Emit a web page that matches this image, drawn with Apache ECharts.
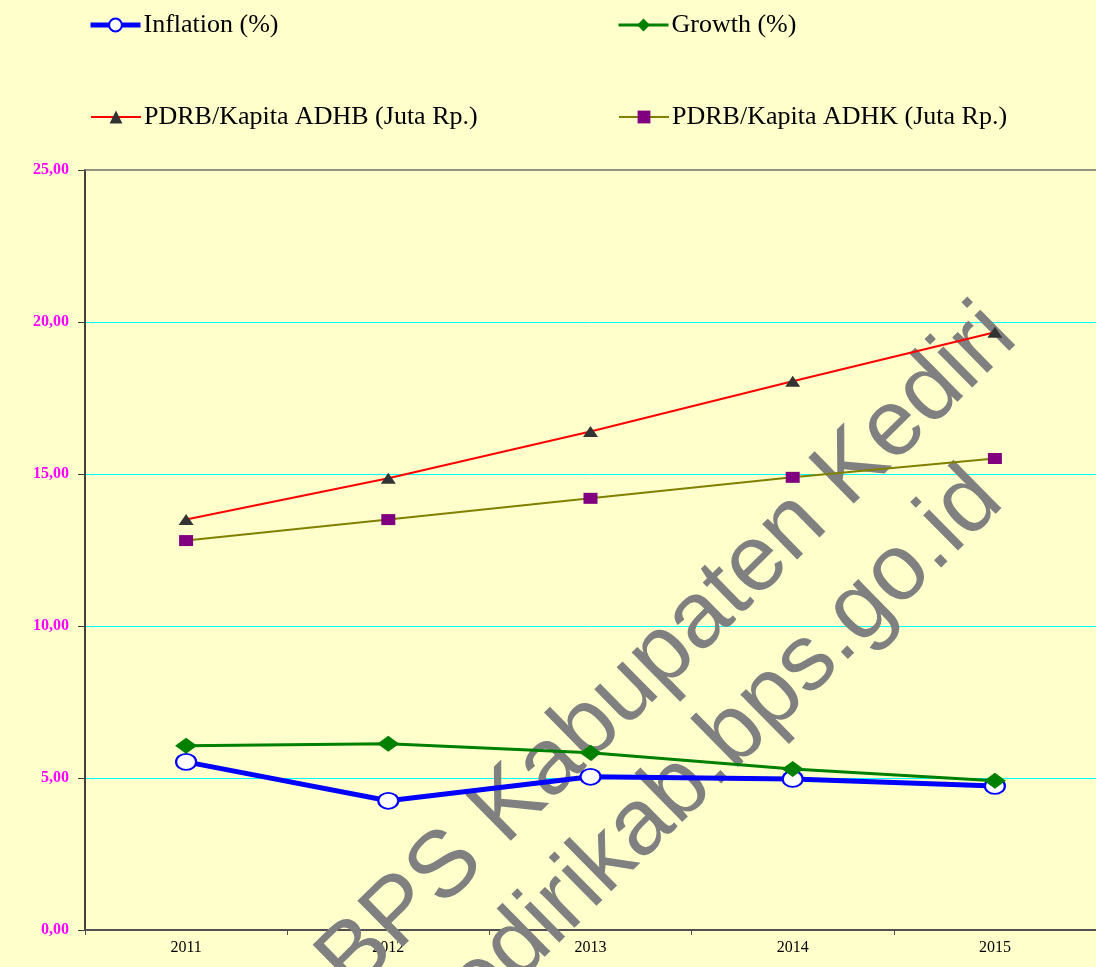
<!DOCTYPE html>
<html>
<head>
<meta charset="utf-8">
<script src="https://cdn.jsdelivr.net/npm/echarts@6/dist/echarts.min.js"></script>
<style>
  html, body { margin: 0; padding: 0; background: #FFFFCC; }
  #chart { width: 1096px; height: 967px; }
</style>
</head>
<body>
<div id="chart"></div>
<script>
// values
const years = ['2011', '2012', '2013', '2014', '2015'];
const inflation = [5.53, 4.25, 5.04, 4.97, 4.74];
const growth = [6.06, 6.13, 5.83, 5.30, 4.91];
const adhb = [13.50, 14.86, 16.40, 18.05, 19.66];
const adhk = [12.81, 13.50, 14.20, 14.89, 15.51];
const seriesNames = ['Inflation (%)', 'Growth (%)', 'PDRB/Kapita ADHB (Juta Rp.)', 'PDRB/Kapita ADHK (Juta Rp.)'];
const watermark = ['BPS Kabupaten Kediri', 'kedirikab.bps.go.id'];

const serif = '"Liberation Serif", "DejaVu Serif", serif';

const legendAt = (name, left, top, lineWidth) => ({
    data: [name],
    left: left,
    top: top,
    itemWidth: 50,
    itemHeight: 16,
    itemGap: 0,
    padding: 0,
    lineStyle: { width: lineWidth },
    textStyle: { fontFamily: serif, fontSize: 26, color: '#000', padding: [0, 0, 0, -2] }
});

const chart = echarts.init(document.getElementById('chart'));
const rot = 44.5 * Math.PI / 180;
const wmPos = [[668, 650], [708, 760]];

const option = {
    backgroundColor: '#FFFFCC',
    animation: false,
    legend: [
        legendAt(seriesNames[0], 88, 12, 5),
        legendAt(seriesNames[1], 617, 12, 3),
        legendAt(seriesNames[2], 90, 104, 2),
        legendAt(seriesNames[3], 618, 104, 2)
    ],
    grid: { left: 85, right: -7, top: 170, bottom: 37 },
    xAxis: [
        {
            type: 'category',
            data: years,
            boundaryGap: true,
            axisLine: { lineStyle: { color: '#505050', width: 2 } },
            axisTick: { show: true, length: 5, lineStyle: { color: '#505050' } },
            axisLabel: { fontFamily: serif, fontSize: 16, color: '#000', margin: 10 }
        },
        {
            // top border of the plot
            type: 'category',
            data: years,
            position: 'top',
            z: 3,
            axisLine: { lineStyle: { color: '#707070', width: 1.5 } },
            axisTick: { show: false },
            axisLabel: { show: false }
        }
    ],
    yAxis: {
        type: 'value',
        min: 0,
        max: 25,
        interval: 5,
        axisLine: { show: true, lineStyle: { color: '#404040', width: 2 } },
        axisTick: { show: true, length: 7, lineStyle: { color: '#404040' } },
        axisLabel: {
            fontFamily: serif, fontSize: 16, fontWeight: 'bold', color: '#FF00FF', margin: 16,
            formatter: v => v.toFixed(2).replace('.', ',')
        },
        splitLine: { showMaxLine: false, lineStyle: { color: '#00FFFF', width: 1 } }
    },
    graphic: watermark.map((t, i) => ({
        type: 'text',
        x: wmPos[i][0],
        y: wmPos[i][1],
        rotation: rot,
        z: 1,
        silent: true,
        style: {
            text: t,
            fill: '#808080',
            font: '94px "Liberation Sans", Arial, sans-serif',
            textAlign: 'center',
            textVerticalAlign: 'middle'
        }
    })),
    series: [
        {
            name: seriesNames[0], type: 'line', data: inflation, z: 4,
            symbol: 'circle', symbolSize: [20, 16],
            lineStyle: { color: '#0000FF', width: 5 },
            itemStyle: { color: '#FFFFFF', borderColor: '#0000FF', borderWidth: 2 }
        },
        {
            name: seriesNames[1], type: 'line', data: growth, z: 5,
            symbol: 'diamond', symbolSize: [22, 16],
            lineStyle: { color: '#008000', width: 3 },
            itemStyle: { color: '#008000' }
        },
        {
            name: seriesNames[2], type: 'line', data: adhb, z: 3,
            symbol: 'triangle', symbolSize: [15, 11],
            lineStyle: { color: '#FF0000', width: 2 },
            itemStyle: { color: '#333333' }
        },
        {
            name: seriesNames[3], type: 'line', data: adhk, z: 3,
            symbol: 'rect', symbolSize: [14, 11],
            lineStyle: { color: '#808000', width: 2 },
            itemStyle: { color: '#800080' }
        }
    ]
};

chart.setOption(option);
window.addEventListener('resize', () => {
    chart && chart.resize();
});
</script>
</body>
</html>
